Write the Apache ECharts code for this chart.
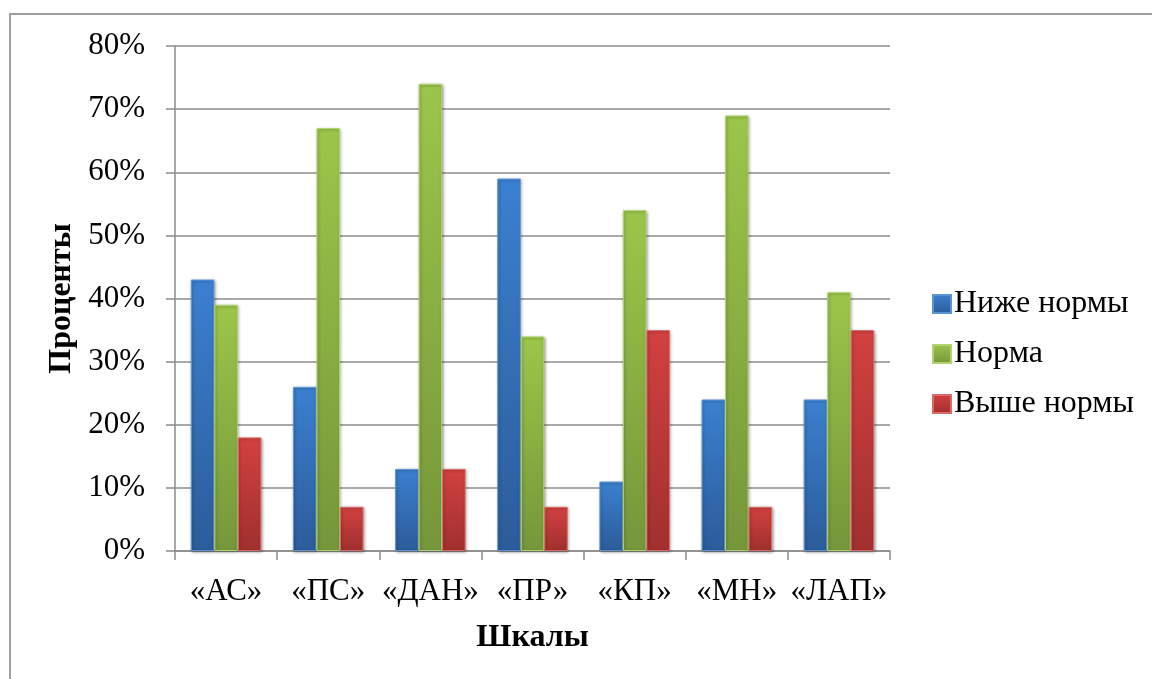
<!DOCTYPE html>
<html>
<head>
<meta charset="utf-8">
<script src="https://cdn.jsdelivr.net/npm/echarts@6/dist/echarts.min.js"></script>
<style>
  html, body { margin: 0; padding: 0; background: #ffffff; }
  #chart { width: 1152px; height: 679px; }
</style>
</head>
<body>
<div id="chart"></div>
<script>
// Scales of the test and share of respondents per level, %
const categories = ['«АС»', '«ПС»', '«ДАН»', '«ПР»', '«КП»', '«МН»', '«ЛАП»'];
const belowNorm = [43, 26, 13, 59, 11, 24, 24];
const norm = [39, 67, 74, 34, 54, 69, 41];
const aboveNorm = [18, 7, 13, 7, 35, 7, 35];
const seriesNames = ['Ниже нормы', 'Норма', 'Выше нормы'];
const yTicks = [0, 10, 20, 30, 40, 50, 60, 70, 80];

const FONT = '"Liberation Serif", "Times New Roman", serif';

function grad(top, bottom) {
  return new echarts.graphic.LinearGradient(0, 0, 0, 1, [
    { offset: 0, color: top },
    { offset: 1, color: bottom }
  ]);
}

const palette = [
  { fill: grad('#3b80d0', '#2c5c9a'), border: '#5a93d6' },
  { fill: grad('#9cc64a', '#76963a'), border: '#b0d46e' },
  { fill: grad('#d24140', '#a0302e'), border: '#dc6a68' }
];

const values = [belowNorm, norm, aboveNorm];

const chart = echarts.init(document.getElementById('chart'), null, { renderer: 'canvas' });

chart.setOption({
  animation: false,
  backgroundColor: '#ffffff',
  graphic: [{
    type: 'rect',
    shape: { x: 10, y: 14, width: 1200, height: 700 },
    style: { fill: 'none', stroke: '#a0a0a0', lineWidth: 2 },
    silent: true
  }],
  grid: { left: 175, right: 262, top: 46, bottom: 128, containLabel: false },
  legend: {
    orient: 'vertical',
    left: 927,
    top: 283,
    itemWidth: 18,
    itemHeight: 18,
    itemGap: 18,
    icon: 'rect',
    textStyle: { fontFamily: FONT, fontSize: 32, color: '#000000', padding: [0, 0, 0, -2], lineHeight: 30 },
    data: seriesNames
  },
  xAxis: {
    type: 'category',
    data: categories,
    name: 'Шкалы',
    nameLocation: 'middle',
    nameGap: 71,
    nameTextStyle: { fontFamily: FONT, fontSize: 32, fontWeight: 'bold', color: '#000000' },
    axisLine: { lineStyle: { color: '#8c8c8c', width: 1.5 } },
    axisTick: { show: true, length: 9, lineStyle: { color: '#8c8c8c', width: 1.5 } },
    axisLabel: { fontFamily: FONT, fontSize: 31, color: '#000000', margin: 25, interval: 0 },
    splitLine: { show: false }
  },
  yAxis: {
    type: 'value',
    min: yTicks[0],
    max: yTicks[yTicks.length - 1],
    interval: 10,
    name: 'Проценты',
    nameLocation: 'middle',
    nameGap: 88,
    nameTextStyle: { fontFamily: FONT, fontSize: 32, fontWeight: 'bold', color: '#000000' },
    axisLine: { show: true, lineStyle: { color: '#8c8c8c', width: 1.5 } },
    axisTick: { show: true, length: 9, lineStyle: { color: '#8c8c8c', width: 1.5 } },
    axisLabel: { fontFamily: FONT, fontSize: 31, color: '#000000', margin: 30, formatter: '{value}%' },
    splitLine: { show: true, lineStyle: { color: '#8c8c8c', width: 1.5 } }
  },
  series: seriesNames.map((name, i) => ({
    name: name,
    type: 'bar',
    data: values[i],
    barGap: '0%',
    barCategoryGap: '31%',
    itemStyle: {
      color: palette[i].fill,
      borderColor: palette[i].border,
      borderWidth: 1,
      shadowColor: 'rgba(0,0,0,0.35)',
      shadowBlur: 3,
      shadowOffsetX: 1,
      shadowOffsetY: 1
    }
  }))
});
</script>
</body>
</html>
